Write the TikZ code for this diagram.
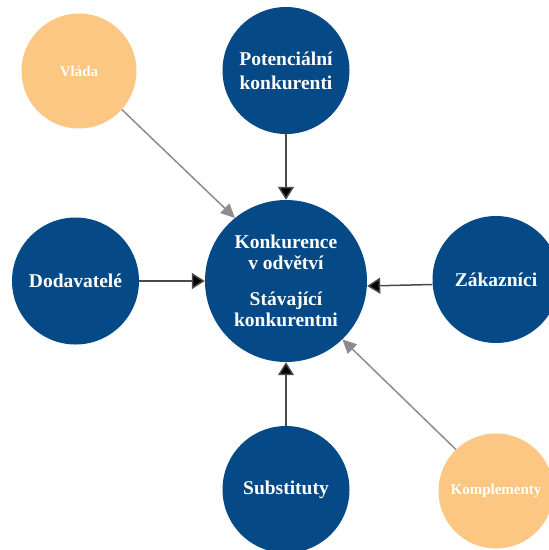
\documentclass[tikz,border=0pt]{standalone}
\usepackage{fontspec}
\setmainfont{Liberation Serif}
\usetikzlibrary{arrows.meta}

\definecolor{forceblue}{HTML}{054A87}
\definecolor{outerorange}{HTML}{FCC683}
\definecolor{lineblack}{HTML}{4A4A4A}
\definecolor{linegray}{HTML}{8C8C8C}

\begin{document}
\begin{tikzpicture}[x=1pt,y=-1pt,
  force/.style={circle, fill=forceblue, draw=none, minimum size=127pt, inner sep=0pt,
    text=white, font=\bfseries\fontsize{19.5}{24}\selectfont, align=center},
  outer/.style={circle, fill=outerorange, draw=none, minimum size=115pt, inner sep=0pt,
    text=white, font=\bfseries\fontsize{15}{18}\selectfont, align=center},
  mainarrow/.style={draw=lineblack, line width=1.5pt, -{Triangle[length=13pt,width=16pt,fill=black]}},
  sidearrow/.style={draw=linegray, line width=1.5pt, -{Triangle[length=14pt,width=13pt,fill=linegray]}}
]
\useasboundingbox (0,0) rectangle (549,550);
\clip (0,0) rectangle (549,550);

% the industry rivalry in the middle
\node[force, minimum size=162pt, font=\bfseries\fontsize{19.5}{21.5}\selectfont] (center) at (286,281)
  {Konkurence\\v odvětví\\[14pt]Stávající\\konkurentni};

% the four direct forces
\node[force] (potential) at (286,70.5) {Potenciální\\konkurenti};
\node[force] (suppliers) at (75.5,281) {Dodavatelé};
\node[force] (customers) at (496,279.5) {Zákazníci};
\node[force] (substitutes) at (286,489.5) {Substituty};

% the two outer influences
\node[outer] (government) at (79,71) {Vláda};
\node[outer] (complements) at (496,491) {Komplementy};

% direct forces pointing at the rivalry
\draw[mainarrow] (potential.south) -- (center.north);
\draw[mainarrow] (suppliers.east) -- (center.west);
\draw[mainarrow] ([yshift=-5pt]customers.west) -- ([yshift=-5pt]center.east);
\draw[mainarrow] (substitutes.north) -- (center.south);

% outer influences
\draw[sidearrow] (government.-42) -- (center.129);
\draw[sidearrow] (complements.134) -- (center.-46);
\end{tikzpicture}
\end{document}
